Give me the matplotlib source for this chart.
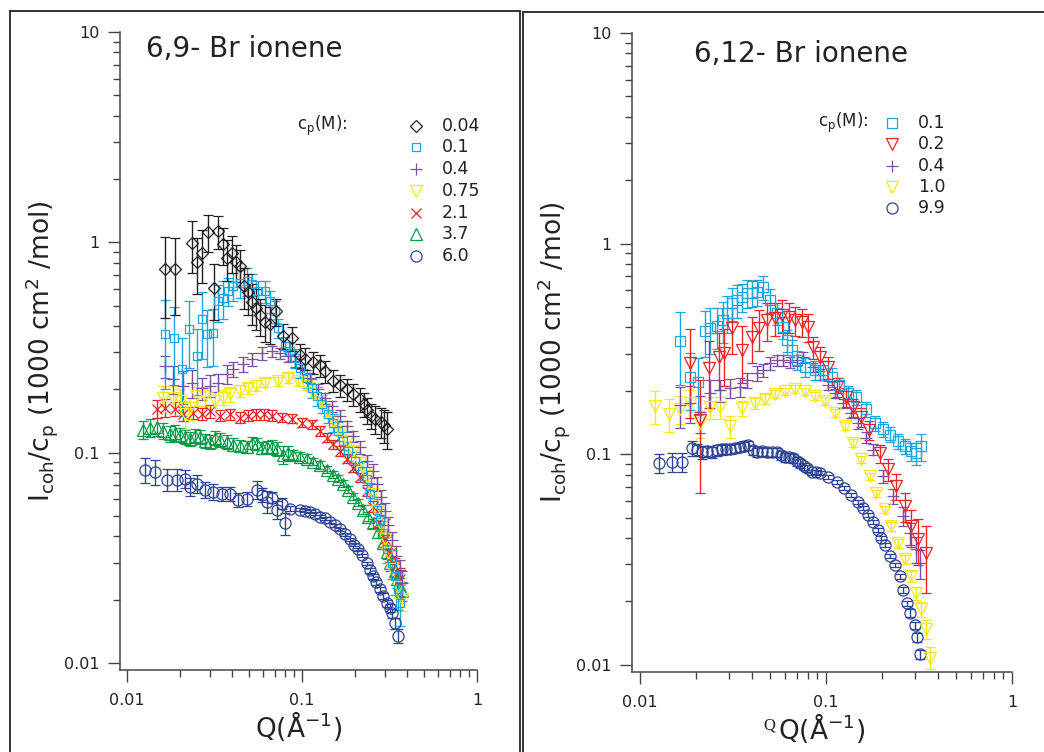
import numpy as np
import matplotlib
matplotlib.use("Agg")
import matplotlib.pyplot as plt
from matplotlib.ticker import FixedLocator, FixedFormatter, LogLocator, NullFormatter
from matplotlib.lines import Line2D

# ---- 6,9- Br ionene (left panel) ----
q69_004 = [0.0165, 0.0188, 0.0234, 0.0250, 0.0268, 0.0291, 0.0313, 0.0330, 0.0353, 0.0373,
           0.0399, 0.0420, 0.0442, 0.0467, 0.0492, 0.0519, 0.0547, 0.0575, 0.0615, 0.0656,
           0.0711, 0.0780, 0.0875, 0.0974, 0.104, 0.116, 0.127, 0.135, 0.150, 0.165,
           0.180, 0.195, 0.215, 0.226, 0.234, 0.248, 0.263, 0.284, 0.295, 0.305]
i69_004 = [0.75, 0.75, 0.99, 0.81, 0.89, 1.12, 0.61, 1.13, 0.98, 0.84,
           0.89, 0.81, 0.77, 0.62, 0.58, 0.52, 0.49, 0.45, 0.42, 0.41,
           0.47, 0.36, 0.35, 0.29, 0.28, 0.27, 0.26, 0.245, 0.22, 0.21,
           0.20, 0.19, 0.18, 0.17, 0.16, 0.15, 0.145, 0.14, 0.135, 0.13]
e69_004 = [0.42, 0.40, 0.28, 0.30, 0.28, 0.20, 0.30, 0.18, 0.20, 0.22,
           0.20, 0.20, 0.20, 0.22, 0.22, 0.22, 0.22, 0.20, 0.20, 0.20,
           0.15, 0.14, 0.13, 0.13, 0.12, 0.12, 0.12, 0.12, 0.12, 0.12,
           0.12, 0.12, 0.13, 0.13, 0.14, 0.14, 0.15, 0.16, 0.18, 0.20]

q69_01 = [0.0165, 0.0186, 0.0206, 0.0226, 0.0251, 0.0268, 0.0287, 0.0310, 0.0331, 0.0354,
          0.0378, 0.0403, 0.0442, 0.0485, 0.0518, 0.0560, 0.0615, 0.0656, 0.0701, 0.0729,
          0.0800, 0.0854, 0.0912, 0.0974, 0.1068, 0.114, 0.1218, 0.130, 0.1408, 0.1504,
          0.1606, 0.1715, 0.1832, 0.2009, 0.2202, 0.2352, 0.2447, 0.2683, 0.2791, 0.2904,
          0.306, 0.3268, 0.340, 0.3537, 0.3631]
i69_01 = [0.367, 0.351, 0.250, 0.389, 0.288, 0.431, 0.367, 0.371, 0.525, 0.543,
          0.586, 0.619, 0.640, 0.654, 0.632, 0.586, 0.586, 0.525, 0.471, 0.392,
          0.322, 0.304, 0.282, 0.253, 0.226, 0.203, 0.186, 0.171, 0.153, 0.139,
          0.127, 0.114, 0.102, 0.0916, 0.0822, 0.0753, 0.0639, 0.0537, 0.0481, 0.0414,
          0.0347, 0.0298, 0.0258, 0.0224, 0.0192]
e69_01 = [0.45, 0.40, 0.40, 0.35, 0.35, 0.35, 0.30, 0.30, 0.20, 0.20,
          0.15, 0.15, 0.15, 0.15, 0.12, 0.12, 0.12, 0.12, 0.12, 0.10,
          0.10, 0.10, 0.10, 0.10, 0.10, 0.10, 0.10, 0.10, 0.10, 0.10,
          0.10, 0.10, 0.10, 0.10, 0.10, 0.10, 0.12, 0.12, 0.12, 0.14,
          0.14, 0.16, 0.18, 0.20, 0.22]

q69_04 = [0.0165, 0.0183, 0.0209, 0.0235, 0.0268, 0.0298, 0.0331, 0.0373, 0.0403, 0.0460,
          0.0518, 0.0591, 0.0675, 0.0749, 0.0832, 0.0912, 0.100, 0.111, 0.1235, 0.1353,
          0.148, 0.165, 0.180, 0.196, 0.2145, 0.235, 0.2535, 0.268, 0.284, 0.298,
          0.312, 0.328, 0.346, 0.363, 0.372]
i69_04 = [0.2585, 0.224, 0.208, 0.215, 0.203, 0.208, 0.215, 0.237, 0.250, 0.264,
          0.279, 0.298, 0.304, 0.298, 0.288, 0.273, 0.250, 0.227, 0.201, 0.182,
          0.167, 0.150, 0.134, 0.120, 0.106, 0.0916, 0.0822, 0.0713, 0.0619, 0.0531,
          0.0451, 0.0383, 0.0322, 0.0276, 0.0240]
e69_04 = [0.12, 0.15, 0.18, 0.15, 0.12, 0.12, 0.10, 0.10, 0.08, 0.08,
          0.07, 0.07, 0.06, 0.06, 0.06, 0.06, 0.06, 0.06, 0.06, 0.06,
          0.06, 0.06, 0.06, 0.06, 0.07, 0.07, 0.08, 0.08, 0.08, 0.09,
          0.10, 0.10, 0.12, 0.12, 0.14]

q69_075 = [0.0161, 0.0183, 0.0201, 0.0215, 0.0229, 0.0251, 0.0279, 0.0318, 0.0354, 0.0388,
           0.0442, 0.0492, 0.0547, 0.0615, 0.0729, 0.0832, 0.0950, 0.1068, 0.116, 0.127,
           0.139, 0.150, 0.165, 0.180, 0.196, 0.2145, 0.235, 0.2535, 0.268, 0.284,
           0.298, 0.312, 0.328, 0.354, 0.372]
i69_075 = [0.183, 0.183, 0.176, 0.153, 0.163, 0.186, 0.186, 0.176, 0.183, 0.190,
           0.197, 0.203, 0.208, 0.215, 0.219, 0.227, 0.219, 0.208, 0.193, 0.176,
           0.158, 0.142, 0.127, 0.114, 0.102, 0.0898, 0.0778, 0.0639, 0.0531, 0.0451,
           0.0391, 0.0332, 0.0279, 0.0231, 0.0201]
e69_075 = [0.14, 0.14, 0.14, 0.15, 0.12, 0.10, 0.10, 0.10, 0.08, 0.08,
           0.07, 0.06, 0.06, 0.05, 0.05, 0.05, 0.05, 0.05, 0.05, 0.05,
           0.05, 0.05, 0.05, 0.05, 0.05, 0.06, 0.06, 0.06, 0.07, 0.07,
           0.08, 0.08, 0.10, 0.12, 0.12]

q69_21 = [0.0148, 0.0165, 0.0188, 0.0209, 0.0238, 0.0268, 0.0298, 0.0340, 0.0388, 0.0442,
          0.0492, 0.0547, 0.0607, 0.0675, 0.0768, 0.0876, 0.100, 0.114, 0.127, 0.139,
          0.150, 0.165, 0.180, 0.196, 0.2145, 0.235, 0.2545, 0.274, 0.298, 0.318,
          0.340, 0.363]
i69_21 = [0.162, 0.164, 0.162, 0.153, 0.155, 0.153, 0.158, 0.150, 0.153, 0.147,
          0.150, 0.153, 0.153, 0.150, 0.147, 0.145, 0.139, 0.137, 0.127, 0.118,
          0.110, 0.102, 0.0936, 0.0850, 0.0763, 0.0661, 0.0555, 0.0471, 0.0391, 0.0332,
          0.0288, 0.0252]
e69_21 = [0.10, 0.10, 0.08, 0.08, 0.07, 0.07, 0.07, 0.06, 0.06, 0.06,
          0.06, 0.06, 0.06, 0.06, 0.05, 0.05, 0.05, 0.05, 0.05, 0.05,
          0.05, 0.05, 0.05, 0.05, 0.05, 0.06, 0.06, 0.07, 0.08, 0.09,
          0.10, 0.12]

q69_37 = [0.0123, 0.0135, 0.0148, 0.0161, 0.0176, 0.0188, 0.0201, 0.0215, 0.0229, 0.0245,
          0.0261, 0.0279, 0.0298, 0.0318, 0.0340, 0.0373, 0.0403, 0.0442, 0.0485, 0.0518,
          0.0553, 0.0591, 0.0631, 0.0675, 0.0720, 0.0780, 0.0832, 0.0889, 0.0974, 0.1068,
          0.116, 0.127, 0.139, 0.150, 0.161, 0.1715, 0.183, 0.196, 0.209, 0.223,
          0.2385, 0.2545, 0.272, 0.290, 0.306, 0.318, 0.338, 0.349, 0.363, 0.372]
i69_37 = [0.1286, 0.1314, 0.1329, 0.127, 0.1231, 0.1243, 0.1217, 0.1191, 0.1165, 0.1204,
          0.1191, 0.114, 0.1128, 0.1178, 0.1152, 0.1128, 0.1092, 0.108, 0.1068, 0.1115,
          0.1103, 0.1056, 0.1068, 0.1068, 0.1045, 0.0977, 0.100, 0.0977, 0.0957, 0.0936,
          0.0906, 0.0876, 0.0831, 0.0787, 0.0753, 0.0713, 0.0668, 0.0619, 0.0579, 0.0537,
          0.0497, 0.0461, 0.0418, 0.0371, 0.0336, 0.0298, 0.0273, 0.0250, 0.0231, 0.0220]
e69_37 = [0.10, 0.10, 0.10, 0.09, 0.09, 0.09, 0.08, 0.08, 0.08, 0.08,
          0.08, 0.08, 0.08, 0.08, 0.08, 0.08, 0.07, 0.07, 0.07, 0.07,
          0.07, 0.07, 0.07, 0.08, 0.08, 0.10, 0.08, 0.06, 0.05, 0.05,
          0.04, 0.04, 0.04, 0.04, 0.04, 0.04, 0.04, 0.04, 0.04, 0.05,
          0.05, 0.05, 0.06, 0.06, 0.07, 0.08, 0.08, 0.09, 0.10, 0.10]

q69_60 = [0.0127, 0.0145, 0.0169, 0.0193, 0.0215, 0.0229, 0.0251, 0.0279, 0.0310, 0.0349,
          0.0388, 0.0431, 0.0485, 0.0553, 0.0591, 0.0631, 0.0675, 0.0720, 0.0768, 0.0800,
          0.0854, 0.0974, 0.104, 0.111, 0.1187, 0.127, 0.1353, 0.1445, 0.1543, 0.165,
          0.176, 0.188, 0.1985, 0.209, 0.220, 0.235, 0.2447, 0.2545, 0.266, 0.279,
          0.290, 0.306, 0.318, 0.327, 0.340, 0.354]
i69_60 = [0.0831, 0.0813, 0.0745, 0.0745, 0.0753, 0.0690, 0.0713, 0.0668, 0.0654, 0.0639,
          0.0639, 0.0598, 0.0605, 0.0668, 0.0632, 0.0586, 0.0612, 0.0537, 0.0573, 0.0461,
          0.0543, 0.0537, 0.0531, 0.0525, 0.0514, 0.0497, 0.0487, 0.0471, 0.0451, 0.0432,
          0.0409, 0.0387, 0.0366, 0.0347, 0.0325, 0.0298, 0.0276, 0.0258, 0.0242, 0.0224,
          0.0208, 0.0192, 0.0183, 0.0173, 0.0155, 0.0135]
e69_60 = [0.14, 0.14, 0.12, 0.12, 0.10, 0.10, 0.10, 0.09, 0.09, 0.08,
          0.08, 0.08, 0.08, 0.10, 0.08, 0.12, 0.06, 0.10, 0.06, 0.12,
          0.03, 0.02, 0.02, 0.02, 0.02, 0.02, 0.02, 0.02, 0.02, 0.02,
          0.02, 0.02, 0.02, 0.02, 0.02, 0.02, 0.03, 0.03, 0.03, 0.03,
          0.03, 0.04, 0.04, 0.05, 0.06, 0.08]

# ---- 6,12- Br ionene (right panel) ----
q612_01 = [0.01643, 0.0186, 0.0205, 0.0224, 0.0238, 0.0260, 0.0280, 0.0294, 0.0313, 0.0333,
           0.0355, 0.0377, 0.0402, 0.0427, 0.0460, 0.0502, 0.0548, 0.0590, 0.0620, 0.0660,
           0.0702, 0.0776, 0.0878, 0.0969, 0.1084, 0.1168, 0.1306, 0.1442, 0.1633, 0.1826,
           0.2016, 0.2199, 0.2429, 0.2650, 0.2855, 0.3038, 0.3231]
i612_01 = [0.344, 0.232, 0.220, 0.384, 0.397, 0.406, 0.433, 0.468, 0.522, 0.539,
           0.557, 0.582, 0.582, 0.588, 0.621, 0.539, 0.468, 0.401, 0.348, 0.312,
           0.280, 0.259, 0.251, 0.251, 0.232, 0.213, 0.195, 0.187, 0.164, 0.140,
           0.131, 0.124, 0.115, 0.109, 0.103, 0.101, 0.109]
e612_01 = [0.38, 0.30, 0.30, 0.25, 0.25, 0.22, 0.22, 0.20, 0.18, 0.18,
           0.15, 0.15, 0.14, 0.14, 0.13, 0.13, 0.12, 0.12, 0.12, 0.12,
           0.10, 0.10, 0.10, 0.10, 0.10, 0.08, 0.08, 0.08, 0.08, 0.08,
           0.08, 0.08, 0.08, 0.08, 0.10, 0.12, 0.15]

q612_02 = [0.0186, 0.0211, 0.0235, 0.0266, 0.0284, 0.0313, 0.0355, 0.0402, 0.0438, 0.0483,
           0.0533, 0.0583, 0.0636, 0.0684, 0.0743, 0.0804, 0.0853, 0.0933, 0.1031, 0.1153,
           0.1274, 0.139, 0.1535, 0.1695, 0.1943, 0.2146, 0.237, 0.265, 0.2855, 0.3113,
           0.3439]
i612_02 = [0.271, 0.145, 0.256, 0.289, 0.302, 0.397, 0.312, 0.360, 0.397, 0.433,
           0.443, 0.458, 0.448, 0.433, 0.424, 0.401, 0.322, 0.289, 0.259, 0.208,
           0.187, 0.167, 0.150, 0.130, 0.101, 0.0849, 0.0705, 0.0566, 0.0455, 0.0395,
           0.0339]
e612_02 = [0.45, 0.55, 0.35, 0.30, 0.30, 0.25, 0.30, 0.25, 0.22, 0.20,
           0.18, 0.18, 0.16, 0.16, 0.15, 0.15, 0.12, 0.12, 0.12, 0.10,
           0.10, 0.10, 0.10, 0.10, 0.10, 0.12, 0.14, 0.16, 0.20, 0.25,
           0.35]

q612_04 = [0.0164, 0.0186, 0.0211, 0.0238, 0.0270, 0.0306, 0.0346, 0.0377, 0.0427, 0.0460,
           0.0502, 0.0548, 0.0590, 0.0643, 0.0702, 0.0756, 0.0853, 0.0933, 0.1019, 0.1125,
           0.1227, 0.1355, 0.1478, 0.1633, 0.1781, 0.2016, 0.2283, 0.2585, 0.2819, 0.3038,
           0.3192]
i612_04 = [0.171, 0.175, 0.158, 0.195, 0.201, 0.206, 0.208, 0.225, 0.243, 0.251,
           0.271, 0.280, 0.280, 0.274, 0.280, 0.289, 0.259, 0.237, 0.213, 0.195,
           0.175, 0.157, 0.140, 0.120, 0.105, 0.0786, 0.0632, 0.0508, 0.0421, 0.0354,
           0.0304]
e612_04 = [0.22, 0.20, 0.20, 0.15, 0.12, 0.10, 0.10, 0.08, 0.08, 0.07,
           0.07, 0.06, 0.06, 0.06, 0.06, 0.06, 0.05, 0.05, 0.05, 0.05,
           0.05, 0.05, 0.06, 0.06, 0.06, 0.07, 0.08, 0.10, 0.12, 0.14,
           0.16]

q612_10 = [0.01205, 0.01433, 0.0164, 0.0186, 0.0211, 0.0238, 0.0270, 0.0306, 0.0355, 0.0417,
           0.0472, 0.0533, 0.0605, 0.0684, 0.0776, 0.0878, 0.0994, 0.1125, 0.1258, 0.139,
           0.1535, 0.1716, 0.1849, 0.2067, 0.2227, 0.2429, 0.265, 0.2855, 0.3038, 0.3231,
           0.3439, 0.3614]
i612_10 = [0.169, 0.155, 0.164, 0.175, 0.140, 0.167, 0.167, 0.136, 0.165, 0.175,
           0.183, 0.193, 0.199, 0.204, 0.199, 0.189, 0.179, 0.157, 0.136, 0.113,
           0.0947, 0.0786, 0.0653, 0.0548, 0.0455, 0.0378, 0.0317, 0.0263, 0.0219, 0.0184,
           0.0148, 0.0108]
e612_10 = [0.18, 0.18, 0.15, 0.15, 0.15, 0.12, 0.12, 0.12, 0.08, 0.06,
           0.05, 0.04, 0.04, 0.04, 0.04, 0.04, 0.04, 0.04, 0.04, 0.04,
           0.04, 0.04, 0.04, 0.04, 0.05, 0.05, 0.05, 0.06, 0.07, 0.08,
           0.10, 0.12]

q612_99 = [0.01266, 0.01488, 0.01684, 0.01907, 0.0203, 0.0216, 0.0230, 0.0244, 0.0260, 0.0277,
           0.0291, 0.0306, 0.0325, 0.0346, 0.0364, 0.0382, 0.0407, 0.0427, 0.0455, 0.0483,
           0.0515, 0.0548, 0.0576, 0.0605, 0.0636, 0.0668, 0.0702, 0.0729, 0.0766, 0.0795,
           0.0846, 0.0889, 0.0933, 0.1031, 0.1153, 0.1243, 0.1355, 0.1478, 0.1573, 0.1674,
           0.1781, 0.1895, 0.1967, 0.2067, 0.2199, 0.2340, 0.2490, 0.2585, 0.2717, 0.2819,
           0.300, 0.3075, 0.3192]
i612_99 = [0.0906, 0.0916, 0.0916, 0.1068, 0.105, 0.1022, 0.1033, 0.1022, 0.1045, 0.1056,
           0.1056, 0.1056, 0.1068, 0.108, 0.1091, 0.1104, 0.1045, 0.1022, 0.1033, 0.1022,
           0.1022, 0.1022, 0.0989, 0.0968, 0.0968, 0.0957, 0.0926, 0.0906, 0.0877, 0.0858,
           0.0821, 0.0821, 0.0812, 0.0777, 0.0736, 0.0690, 0.0639, 0.0592, 0.0554, 0.0513,
           0.0475, 0.0436, 0.0399, 0.0370, 0.0328, 0.0297, 0.0263, 0.0226, 0.0196, 0.0176,
           0.0154, 0.0135, 0.0112]
e612_99 = [0.10, 0.10, 0.10, 0.08, 0.07, 0.07, 0.06, 0.06, 0.06, 0.06,
           0.05, 0.05, 0.05, 0.05, 0.05, 0.05, 0.05, 0.05, 0.05, 0.05,
           0.05, 0.05, 0.05, 0.05, 0.05, 0.05, 0.05, 0.05, 0.04, 0.04,
           0.03, 0.02, 0.02, 0.02, 0.02, 0.02, 0.02, 0.02, 0.02, 0.02,
           0.02, 0.02, 0.02, 0.02, 0.02, 0.02, 0.03, 0.03, 0.03, 0.04,
           0.04, 0.05, 0.05]

labels69 = ['0.04', '0.1', '0.4', '0.75', '2.1', '3.7', '6.0']
labels612 = ['0.1', '0.2', '0.4', '1.0', '9.9']

BLACK = '#231f20'
CYAN = '#1aa6e0'
PURPLE = '#7b52a3'
YELLOW = '#f5e90f'
RED = '#ec2426'
GREEN = '#0a9a48'
NAVY = '#2e4396'

# (q, i, rel err, colour, marker, size) in legend order
left_series = [
    (q69_004, i69_004, e69_004, BLACK, 'D', 6.0),
    (q69_01, i69_01, e69_01, CYAN, 's', 5.5),
    (q69_04, i69_04, e69_04, PURPLE, '+', 9),
    (q69_075, i69_075, e69_075, YELLOW, 'v', 8),
    (q69_21, i69_21, e69_21, RED, 'x', 7),
    (q69_37, i69_37, e69_37, GREEN, '^', 8),
    (q69_60, i69_60, e69_60, NAVY, 'o', 8),
]
right_series = [
    (q612_01, i612_01, e612_01, CYAN, 's', 7.5),
    (q612_02, i612_02, e612_02, RED, 'v', 8.5),
    (q612_04, i612_04, e612_04, PURPLE, '+', 9),
    (q612_10, i612_10, e612_10, YELLOW, 'v', 8.5),
    (q612_99, i612_99, e612_99, NAVY, 'o', 8),
]

plt.rcParams['font.family'] = 'DejaVu Sans'
plt.rcParams['mathtext.fontset'] = 'dejavusans'

fig = plt.figure(figsize=(10.44, 7.52), dpi=100)
axL = fig.add_axes([0.11494, 0.10904, 0.34195, 0.84840])
axR = fig.add_axes([0.60536, 0.10678, 0.36398, 0.84934])

def draw(ax, q, i, e, col, mk, ms):
    i = np.asarray(i)
    err = i * np.asarray(e)
    ax.errorbar(q, i, yerr=err, fmt=mk, color=col, mfc='none', mec=col,
                ms=ms, mew=0.9, elinewidth=1.0, capsize=3.5, capthick=1.0)

def style(ax, xlo):
    ax.set_xscale('log')
    ax.set_yscale('log')
    ax.set_xlim(xlo, 1.0)
    ax.set_ylim(0.00927, 10)
    for s in ['top', 'right']:
        ax.spines[s].set_visible(False)
    for s in ['left', 'bottom']:
        ax.spines[s].set_color('#444444')
        ax.spines[s].set_linewidth(1.1)
    ax.xaxis.set_major_locator(FixedLocator([0.01, 0.1, 1]))
    ax.xaxis.set_major_formatter(FixedFormatter(['0.01', '0.1', '1']))
    ax.yaxis.set_major_locator(FixedLocator([0.01, 0.1, 1, 10]))
    ax.yaxis.set_major_formatter(FixedFormatter(['0.01', '0.1', '1', '10']))
    ax.xaxis.set_minor_locator(LogLocator(base=10, subs=np.arange(2, 10)))
    ax.yaxis.set_minor_locator(LogLocator(base=10, subs=np.arange(2, 10)))
    ax.xaxis.set_minor_formatter(NullFormatter())
    ax.yaxis.set_minor_formatter(NullFormatter())
    ax.tick_params(which='major', direction='out', length=8.5, width=1.0,
                   color='#444444', labelsize=11.5, labelcolor='#222222')
    ax.tick_params(which='minor', direction='out', length=5, width=1.0, color='#444444')
    ax.tick_params(axis='x', which='major', pad=8)
    ax.tick_params(axis='y', which='major', pad=6)
    ax.set_xlabel(r'Q(Å$^{-1}$)', fontsize=19, labelpad=1, color='#222222')
    ax.set_ylabel(r'I$_{\rm coh}$/c$_{\rm p}$ (1000 cm$^2$ /mol)', fontsize=19,
                  labelpad=3, color='#222222')

# draw back to front
for q, i, e, col, mk, ms in left_series[::-1]:
    draw(axL, q, i, e, col, mk, ms)
for idx in [4, 3, 2, 0, 1]:
    q, i, e, col, mk, ms = right_series[idx]
    draw(axR, q, i, e, col, mk, ms)

style(axL, 0.00912)
style(axR, 0.00906)

axL.text(0.073, 0.9603, '6,9- Br ionene', transform=axL.transAxes, fontsize=20,
         va='baseline', ha='left', color='#222222')
axR.text(0.163, 0.955, '6,12- Br ionene', transform=axR.transAxes, fontsize=20,
         va='baseline', ha='left', color='#222222')

# legends
def legend(ax, series, labels, mx, tx, cx, y0, dy):
    ax.text(cx, y0, r'c$_{\rm p}$(M):', transform=ax.transAxes, fontsize=12,
            ha='right', va='center', color='#222222')
    for k, (s, lab) in enumerate(zip(series, labels)):
        y = y0 - k * dy
        ax.plot([mx], [y], marker=s[4], color=s[3], mfc='none', mec=s[3],
                ms=s[5], mew=0.9, ls='none', transform=ax.transAxes, clip_on=False)
        ax.text(tx, y, lab, transform=ax.transAxes, fontsize=12.5,
                ha='left', va='center', color='#222222')

legend(axL, left_series, labels69, 0.829, 0.902, 0.636, 0.853, 0.034)
legend(axR, right_series, labels612, 0.684, 0.753, 0.621, 0.859, 0.0333)

# stray small label under the right panel
fig.text(769 / 1044, 1 - 726 / 752, 'Q', fontsize=12, family='Liberation Serif',
         ha='center', va='center', color='#222222')

# panel frames
fc = '#333333'
fig.add_artist(Line2D([10 / 1044, 10 / 1044], [0, 1 - 11 / 752], color=fc, lw=1.4))
fig.add_artist(Line2D([10 / 1044, 519.5 / 1044], [1 - 11 / 752, 1 - 11 / 752], color=fc, lw=1.4))
fig.add_artist(Line2D([519.5 / 1044, 519.5 / 1044], [0, 1 - 11 / 752], color=fc, lw=1.4))
fig.add_artist(Line2D([523 / 1044, 523 / 1044], [0, 1 - 12 / 752], color=fc, lw=1.4))
fig.add_artist(Line2D([523 / 1044, 1.0], [1 - 12 / 752, 1 - 12 / 752], color=fc, lw=1.4))

fig.savefig('out.png', dpi=100, facecolor='white')
